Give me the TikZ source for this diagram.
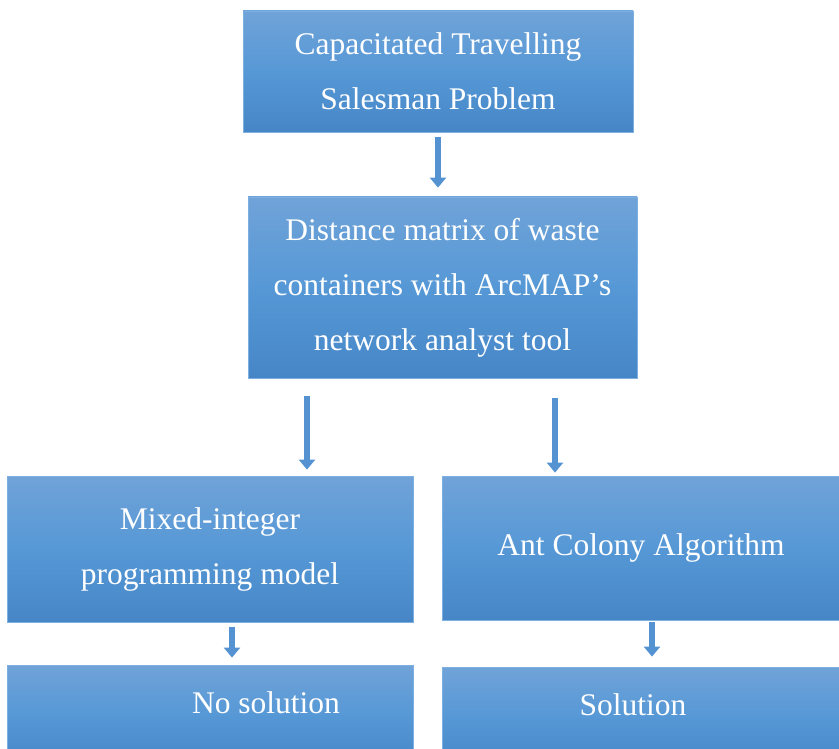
\documentclass[tikz,border=0pt]{standalone}
\usepackage{fontspec}
\setmainfont{Liberation Serif}
\usepackage{tikz}
\usetikzlibrary{arrows.meta}

\definecolor{boxtop}{RGB}{112,163,216}
\definecolor{boxmid}{RGB}{86,152,214}
\definecolor{boxbot}{RGB}{70,134,199}
\definecolor{boxline}{RGB}{125,175,225}
\definecolor{arrowblue}{RGB}{84,146,210}

\tikzset{
  flowbox/.style={rectangle, draw=boxline, line width=0.8pt, top color=boxtop, bottom color=boxbot, middle color=boxmid, text=white, align=center, font=\fontsize{31.5}{55}\selectfont, inner sep=0pt},
  flowarrow/.style={arrowblue, line width=6pt, -{Triangle[width=16pt,length=10pt]}}
}

\begin{document}
\begin{tikzpicture}[x=1pt,y=-1pt]
            \useasboundingbox (0,0) rectangle (839,749);
            \node at (438,71.5) [flowbox, minimum width=390pt, minimum height=121pt] (ctsp) {Capacitated Travelling\\Salesman Problem};
            \node at (442.5,287.5) [flowbox, minimum width=389pt, minimum height=181pt] (dist) {Distance matrix of waste\\containers with ArcMAP’s\\network analyst tool};
            \node at (210,549) [flowbox, minimum width=406pt, minimum height=146pt] (mip) {Mixed-integer\\programming model};
            \node at (641,548) [flowbox, minimum width=398pt, minimum height=144pt] (aca) {Ant Colony Algorithm};
            \node at (210,715) [flowbox, minimum width=406pt, minimum height=100pt, label={[text=white, font=\fontsize{31.5}{55}\selectfont, xshift=56pt, yshift=12pt]center:No solution}] (nosol) {};
            \node at (641,717) [flowbox, minimum width=398pt, minimum height=100pt, label={[text=white, font=\fontsize{31.5}{55}\selectfont, xshift=-8pt, yshift=12pt]center:Solution}] (sol) {};
            \draw[flowarrow] ([yshift=-5pt]ctsp.south) -- ([xshift=-4.5pt,yshift=9pt]dist.north);
            \draw[flowarrow] ([xshift=-135.5pt,yshift=-18pt]dist.south) -- ([xshift=97pt,yshift=6pt]mip.north);
            \draw[flowarrow] ([xshift=112.5pt,yshift=-20pt]dist.south) -- ([xshift=-86pt,yshift=3pt]aca.north);
            \draw[flowarrow] ([xshift=22pt,yshift=-5pt]mip.south) -- ([xshift=22pt,yshift=7pt]nosol.north);
            \draw[flowarrow] ([xshift=11pt,yshift=-2pt]aca.south) -- ([xshift=11pt,yshift=10pt]sol.north);
        \end{tikzpicture}
\end{document}
